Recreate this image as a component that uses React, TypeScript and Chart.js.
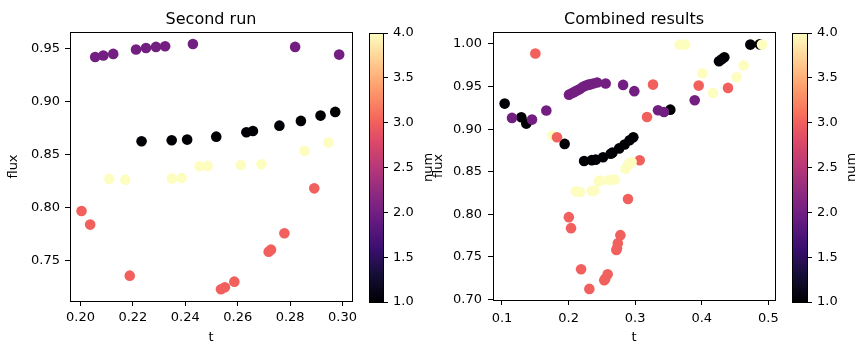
import React, { useEffect, useRef } from "react";
import { Chart, registerables } from "chart.js";

Chart.register(...registerables);
Chart.defaults.font.family = "'DejaVu Sans', sans-serif";
Chart.defaults.color = "#000";

// ---------------- DATA ----------------
// Second run (left panel)
const secondT = [
  0.2056, 0.2087, 0.2125, 0.2212, 0.225, 0.2288, 0.2323, 0.2429, 0.2819, 0.2987,
  0.2233, 0.2348, 0.2407, 0.2518, 0.2633, 0.2658, 0.2759, 0.2841, 0.2916, 0.2972,
  0.211, 0.2171, 0.2349, 0.2386, 0.2454, 0.2485, 0.2612, 0.269, 0.2855, 0.2946,
  0.2004, 0.2037, 0.2188, 0.2536, 0.2551, 0.2587, 0.2718, 0.2727, 0.2778, 0.2892,
];
const secondFlux = [
  0.9424, 0.9437, 0.9453, 0.9494, 0.9509, 0.9519, 0.9525, 0.9547, 0.9519, 0.9446,
  0.8626, 0.8636, 0.8642, 0.867, 0.8711, 0.8724, 0.8774, 0.8819, 0.8869, 0.8904,
  0.827, 0.8263, 0.8273, 0.8279, 0.839, 0.8393, 0.8402, 0.8409, 0.8535, 0.8614,
  0.7967, 0.7838, 0.7355, 0.7226, 0.7244, 0.7298, 0.7582, 0.7601, 0.7756, 0.8181,
];
const secondNum = [
  2, 2, 2, 2, 2, 2, 2, 2, 2, 2,
  1, 1, 1, 1, 1, 1, 1, 1, 1, 1,
  4, 4, 4, 4, 4, 4, 4, 4, 4, 4,
  3, 3, 3, 3, 3, 3, 3, 3, 3, 3,
];

// First run (only in the combined panel)
const firstT = [
  0.104, 0.129, 0.1365, 0.1941, 0.3528, 0.4259, 0.4299, 0.4339, 0.473, 0.487,
  0.115, 0.1451, 0.1666, 0.2006, 0.217, 0.237, 0.2557, 0.3343, 0.3433, 0.3894,
  0.1756, 0.2892, 0.292, 0.3668, 0.3753, 0.4009, 0.4169, 0.4524, 0.463, 0.4905,
  0.1501, 0.1826, 0.2312, 0.274, 0.3068, 0.3178, 0.3268, 0.3954, 0.4394,
];
const firstFlux = [
  0.93, 0.914, 0.9065, 0.8827, 0.9229, 0.9797, 0.982, 0.9844, 0.9992, 0.9995,
  0.9132, 0.9112, 0.9218, 0.9405, 0.947, 0.9535, 0.9535, 0.9222, 0.9202, 0.9339,
  0.8924, 0.8578, 0.86, 0.9992, 0.9992, 0.9656, 0.9425, 0.9609, 0.9746, 0.9992,
  0.9887, 0.8905, 0.7125, 0.766, 0.8635, 0.9143, 0.9523, 0.9511, 0.9484,
];
const firstNum = [
  1, 1, 1, 1, 1, 1, 1, 1, 1, 1,
  2, 2, 2, 2, 2, 2, 2, 2, 2, 2,
  4, 4, 4, 4, 4, 4, 4, 4, 4, 4,
  3, 3, 3, 3, 3, 3, 3, 3, 3,
];

const combinedT = [...firstT, ...secondT];
const combinedFlux = [...firstFlux, ...secondFlux];
const combinedNum = [...firstNum, ...secondNum];

// Tick labels
const secondXTicks = [0.2, 0.22, 0.24, 0.26, 0.28, 0.3];
const secondYTicks = [0.75, 0.8, 0.85, 0.9, 0.95];
const combinedXTicks = [0.1, 0.2, 0.3, 0.4, 0.5];
const combinedYTicks = [0.7, 0.75, 0.8, 0.85, 0.9, 0.95, 1.0];
const colorbarTicks = [1.0, 1.5, 2.0, 2.5, 3.0, 3.5, 4.0];
const numMin = 1;
const numMax = 4;
const colorLabel = "num";

// ---------------- COLORMAP (magma) ----------------
const MAGMA: [number, string][] = [
  [0.0, "#000004"],
  [0.1, "#140e36"],
  [0.2, "#3b0f70"],
  [0.3, "#641a80"],
  [1 / 3, "#721f81"],
  [0.4, "#8c2981"],
  [0.5, "#b73779"],
  [0.6, "#de4968"],
  [2 / 3, "#f1605d"],
  [0.7, "#f7705c"],
  [0.8, "#fe9f6d"],
  [0.9, "#fecf92"],
  [1.0, "#fcfdbf"],
];

function hexToRgb(h: string) {
  const n = parseInt(h.slice(1), 16);
  return [(n >> 16) & 255, (n >> 8) & 255, n & 255];
}

function magma(t: number) {
  const v = Math.max(0, Math.min(1, t));
  for (let i = 1; i < MAGMA.length; i++) {
    const [p1, c1] = MAGMA[i];
    if (v <= p1) {
      const [p0, c0] = MAGMA[i - 1];
      const f = (v - p0) / (p1 - p0);
      const a = hexToRgb(c0);
      const b = hexToRgb(c1);
      const r = a.map((x, k) => Math.round(x + (b[k] - x) * f));
      return `rgb(${r[0]},${r[1]},${r[2]})`;
    }
  }
  return MAGMA[MAGMA.length - 1][1];
}

const numColor = (n: number) => magma((n - numMin) / (numMax - numMin));

// ---------------- PLUGINS ----------------
const framePlugin = {
  id: "frame",
  afterDraw(chart: any) {
    const { ctx, chartArea: a } = chart;
    ctx.save();
    ctx.strokeStyle = "#000";
    ctx.lineWidth = 1;
    ctx.strokeRect(a.left + 0.5, a.top + 0.5, a.right - a.left, a.bottom - a.top);
    ctx.restore();
  },
};

const cbLabelPlugin = {
  id: "cbLabel",
  afterDraw(chart: any) {
    const s = chart.scales.y;
    const { ctx, chartArea: a } = chart;
    ctx.save();
    ctx.translate(s.right, (a.top + a.bottom) / 2);
    ctx.rotate(-Math.PI / 2);
    ctx.textAlign = "center";
    ctx.textBaseline = "alphabetic";
    ctx.fillStyle = "#000";
    ctx.font = "13px 'DejaVu Sans', sans-serif";
    ctx.fillText(colorLabel, 0, 0);
    ctx.restore();
  },
};

// ---------------- CONFIG BUILDERS ----------------
function scatterConfig(p: any) {
  return {
    type: "scatter",
    data: {
      datasets: [
        {
          data: p.t.map((t: number, i: number) => ({ x: t, y: p.flux[i] })),
          pointBackgroundColor: p.num.map(numColor),
          pointBorderWidth: 0,
          pointRadius: 5.3,
        },
      ],
    },
    options: {
      animation: false,
      responsive: false,
      devicePixelRatio: 1,
      events: [],
      layout: { padding: p.padding, autoPadding: false },
      plugins: {
        legend: { display: false },
        tooltip: { enabled: false },
        title: {
          display: true,
          text: p.title,
          fullSize: false,
          color: "#000",
          font: { size: 16, weight: "normal", lineHeight: 1.2 },
          padding: { top: 10, bottom: 2.8 },
        },
      },
      scales: {
        x: {
          type: "linear",
          min: p.xMin,
          max: p.xMax,
          afterFit: (s: any) => {
            s.height = p.xh;
          },
          afterBuildTicks: (s: any) => {
            s.ticks = p.xTicks.map((v: number) => ({ value: v }));
          },
          ticks: {
            callback: (v: any) => Number(v).toFixed(p.xDec),
            padding: p.xPad,
            color: "#000",
            font: { size: 13 },
            maxRotation: 0,
            autoSkip: false,
          },
          grid: { drawOnChartArea: false, drawTicks: true, tickLength: 5, color: "#000", lineWidth: 1 },
          border: { display: false },
          title: { display: true, text: "t", color: "#000", font: { size: 13 }, padding: { top: 0, bottom: 10 } },
        },
        y: {
          type: "linear",
          min: p.yMin,
          max: p.yMax,
          afterFit: (s: any) => {
            s.width = p.yw;
          },
          afterBuildTicks: (s: any) => {
            s.ticks = p.yTicks.map((v: number) => ({ value: v }));
          },
          ticks: {
            callback: (v: any) => Number(v).toFixed(2),
            padding: p.yPad,
            color: "#000",
            font: { size: 13 },
            autoSkip: false,
          },
          grid: { drawOnChartArea: false, drawTicks: true, tickLength: 5, color: "#000", lineWidth: 1 },
          border: { display: false },
          title: { display: true, text: "flux", color: "#000", font: { size: 13 }, padding: { top: p.yTitlePad, bottom: 0 } },
        },
      },
    },
    plugins: [framePlugin],
  };
}

function colorbarConfig(p: any) {
  return {
    type: "bar",
    data: {
      labels: [colorLabel],
      datasets: [
        {
          data: [[numMin, numMax]],
          backgroundColor: (c: any) => {
            const chart = c.chart;
            const a = chart.chartArea;
            if (!a) return MAGMA[0][1];
            const g = chart.ctx.createLinearGradient(0, a.bottom, 0, a.top);
            MAGMA.forEach(([pos, col]) => g.addColorStop(pos, col));
            return g;
          },
          borderWidth: 0,
          barPercentage: 1,
          categoryPercentage: 1,
        },
      ],
    },
    options: {
      animation: false,
      responsive: false,
      devicePixelRatio: 1,
      events: [],
      layout: { padding: p.padding, autoPadding: false },
      plugins: { legend: { display: false }, tooltip: { enabled: false } },
      scales: {
        x: { display: false },
        y: {
          position: "right",
          min: numMin,
          max: numMax,
          afterFit: (s: any) => {
            s.width = p.w;
          },
          afterBuildTicks: (s: any) => {
            s.ticks = colorbarTicks.map((v) => ({ value: v }));
          },
          ticks: {
            callback: (v: any) => Number(v).toFixed(1),
            padding: 5,
            color: "#000",
            font: { size: 13 },
            autoSkip: false,
          },
          grid: { drawOnChartArea: false, drawTicks: true, tickLength: 5, color: "#000", lineWidth: 1 },
          border: { display: false },
        },
      },
    },
    plugins: [framePlugin, cbLabelPlugin],
  };
}

const W = 866;
const H = 355;

const panels = [
  scatterConfig({
    title: "Second run",
    t: secondT,
    flux: secondFlux,
    num: secondNum,
    xMin: 0.196,
    xMax: 0.3036,
    yMin: 0.7115,
    yMax: 0.966,
    xTicks: secondXTicks,
    yTicks: secondYTicks,
    xDec: 2,
    padding: { left: 0, top: 0, right: W - 352, bottom: 0 },
    yw: 70,
    xh: H - 301,
    xPad: 4,
    yPad: 5,
    yTitlePad: 6,
  }),
  colorbarConfig({ padding: { left: 369, top: 33, right: W - 383 - 49, bottom: H - 302 }, w: 49 }),
  scatterConfig({
    title: "Combined results",
    t: combinedT,
    flux: combinedFlux,
    num: combinedNum,
    xMin: 0.0865,
    xMax: 0.51,
    yMin: 0.6995,
    yMax: 1.014,
    xTicks: combinedXTicks,
    yTicks: combinedYTicks,
    xDec: 1,
    padding: { left: 425, top: 0, right: W - 775, bottom: 0 },
    yw: 68,
    xh: H - 300,
    xPad: 6,
    yPad: 6,
    yTitlePad: 5.7,
  }),
  colorbarConfig({ padding: { left: 792, top: 33, right: W - 807 - 48, bottom: H - 302 }, w: 48 }),
];

function Panel({ config }: { config: any }) {
  const ref = useRef<HTMLCanvasElement | null>(null);
  useEffect(() => {
    if (!ref.current) return;
    const chart = new Chart(ref.current, config);
    return () => chart.destroy();
  }, [config]);
  return (
    <canvas
      ref={ref}
      width={W}
      height={H}
      style={{ position: "absolute", left: 0, top: 0, width: W, height: H }}
    />
  );
}

export default function App() {
  return (
    <div style={{ position: "absolute", left: 0, top: 0, width: W, height: H, background: "#fff", overflow: "hidden" }}>
      {panels.map((c, i) => (
        <Panel key={i} config={c} />
      ))}
    </div>
  );
}
